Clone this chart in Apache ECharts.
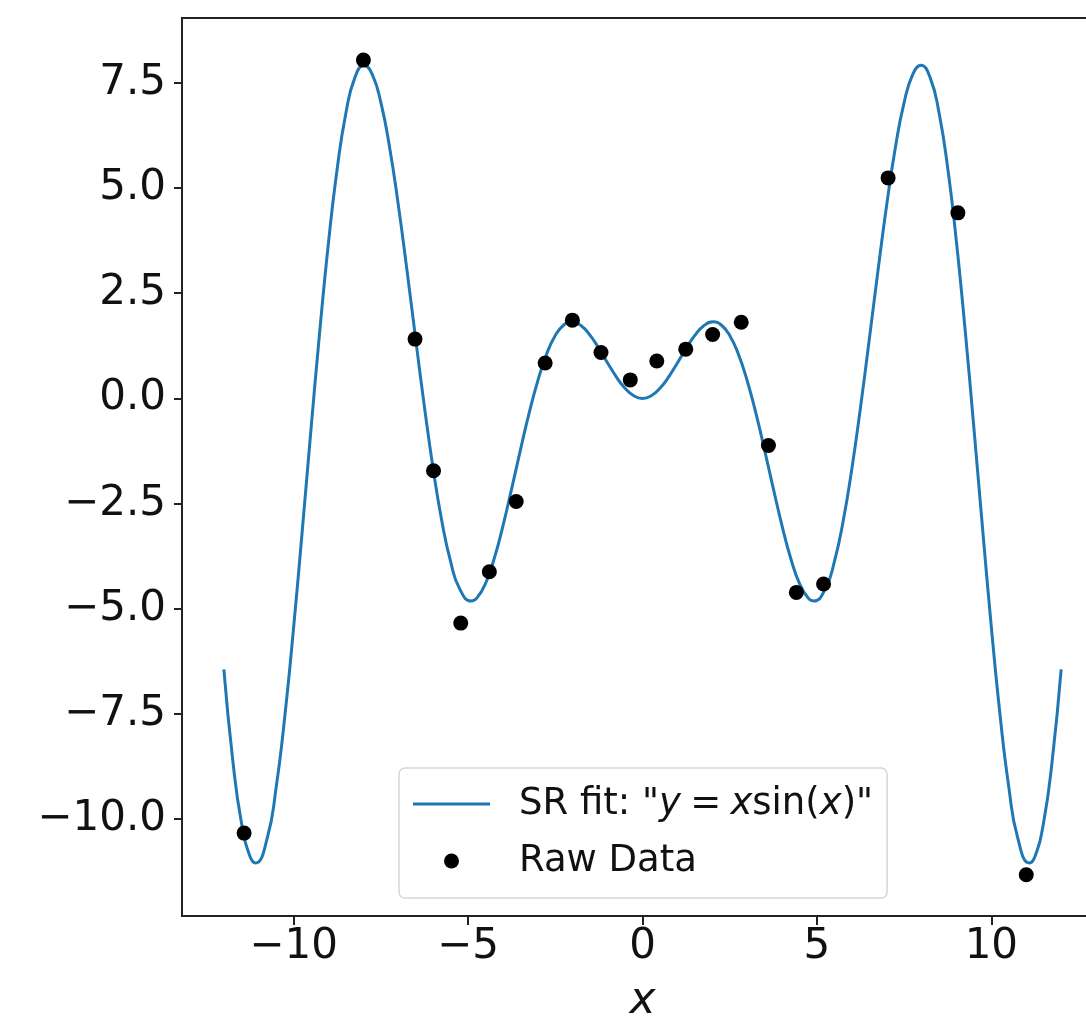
<!DOCTYPE html>
<html>
<head>
<meta charset="utf-8">
<title>SR fit</title>
<script src="https://cdn.jsdelivr.net/npm/echarts@6/dist/echarts.min.js"></script>
<style>
  html, body { margin: 0; padding: 0; background: #fff; }
  #chart { width: 1086px; height: 1020px; }
</style>
</head>
<body>
<div id="chart"></div>
<script>
  const fitX = [
    -12, -11.75, -11.5, -11.25, -11.09, -10.75, -10.5, -10.25, -10, -9.75, -9.5, -9.25, -9, -8.75, -8.5, -8.25,
    -7.98, -7.75, -7.5, -7.25, -7, -6.75, -6.5, -6.25, -6, -5.75, -5.5, -5.25, -4.91, -4.75, -4.5, -4.25,
    -4, -3.75, -3.5, -3.25, -3, -2.75, -2.5, -2.25, -2.03, -1.75, -1.5, -1.25, -1, -0.75, -0.5, -0.25,
    0, 0.25, 0.5, 0.75, 1, 1.25, 1.5, 1.75, 2.03, 2.25, 2.5, 2.75, 3, 3.25, 3.5, 3.75,
    4, 4.25, 4.5, 4.75, 4.91, 5.25, 5.5, 5.75, 6, 6.25, 6.5, 6.75, 7, 7.25, 7.5, 7.75,
    7.98, 8.25, 8.5, 8.75, 9, 9.25, 9.5, 9.75, 10, 10.25, 10.5, 10.75, 11.09, 11.25, 11.5, 11.75, 12
  ]
  const fitY = [
    -6.439, -8.562, -10.068, -10.888, -11.04, -10.428, -9.237, -7.531, -5.44, -3.115, -0.714, 1.609, 3.709, 5.466, 6.787, 7.611,
    7.917, 7.708, 7.035, 5.967, 4.599, 3.038, 1.398, -0.207, -1.676, -2.923, -3.88, -4.509, -4.815, -4.747, -4.399, -3.804,
    -3.027, -2.143, -1.228, -0.352, 0.423, 1.05, 1.496, 1.751, 1.82, 1.722, 1.496, 1.186, 0.841, 0.511, 0.24, 0.062,
    0, 0.062, 0.24, 0.511, 0.841, 1.186, 1.496, 1.722, 1.82, 1.751, 1.496, 1.05, 0.423, -0.352, -1.228, -2.143,
    -3.027, -3.804, -4.399, -4.747, -4.815, -4.509, -3.88, -2.923, -1.676, -0.207, 1.398, 3.038, 4.599, 5.967, 7.035, 7.708,
    7.917, 7.611, 6.787, 5.466, 3.709, 1.609, -0.714, -3.115, -5.44, -7.531, -9.237, -10.428, -11.04, -10.888, -10.068, -8.562, -6.439
  ]

  // raw data points
  const rawX = [-11.42, -8.0, -6.52, -5.99, -5.21, -4.39, -3.62, -2.79, -2.01, -1.19, -0.35, 0.41, 1.24, 2.01, 2.83, 3.61, 4.41, 5.19, 7.04, 9.04, 11.0]
  const rawY = [-10.33, 8.04, 1.41, -1.72, -5.34, -4.12, -2.45, 0.84, 1.86, 1.09, 0.44, 0.89, 1.17, 1.52, 1.81, -1.12, -4.61, -4.41, 5.24, 4.41, -11.32]

  const xTicks = [-10, -5, 0, 5, 10]
  const yTicks = [-10, -7.5, -5, -2.5, 0, 2.5, 5, 7.5]

  const FONT = 'DejaVu Sans'
  const INK = '#222'
  const FIT_NAME = 'SR fit'
  const RAW_NAME = 'Raw Data'

  const minus = (s) => s.replace('-', '\u2212')

  const chart = echarts.init(document.getElementById('chart'))
  chart.setOption({
    animation: false,
    grid: {
      left: 182,
      top: 18,
      right: -17,
      bottom: 104,
      show: true,
      borderColor: INK,
      borderWidth: 2,
      backgroundColor: 'transparent',
      outerBoundsMode: 'none'
    },
    legend: {
      orient: 'vertical',
      left: 399,
      top: 768,
      padding: [15, 14, 16, 14],
      itemWidth: 77,
      itemHeight: 15,
      itemGap: 15,
      backgroundColor: 'rgba(255,255,255,0.8)',
      borderColor: '#d6d6d6',
      borderWidth: 1.5,
      borderRadius: 6,
      data: [
        { name: FIT_NAME, icon: 'path://M0,0L77,0L77,3L0,3Z' },
        { name: RAW_NAME, icon: 'circle' }
      ],
      formatter: (name) => name === FIT_NAME ? 'SR fit: "{i|y}\u2005=\u2005{i|x}sin({i|x})"' : name,
      textStyle: {
        fontFamily: FONT,
        fontSize: 37,
        color: '#111',
        lineHeight: 42,
        padding: [0, 0, 0, 24],
        rich: {
          i: { fontFamily: FONT, fontSize: 37, fontStyle: 'italic', color: '#111' }
        }
      }
    },
    xAxis: {
      type: 'value',
      min: -13.2,
      max: 13.2,
      name: 'x',
      nameLocation: 'middle',
      nameGap: 64,
      nameTextStyle: { fontFamily: FONT, fontSize: 44, fontStyle: 'italic', color: '#111' },
      axisLine: { show: true, onZero: false, lineStyle: { color: INK, width: 2 } },
      axisTick: { show: true, length: 9, customValues: xTicks, lineStyle: { color: INK, width: 2 } },
      axisLabel: {
        margin: 10,
        customValues: xTicks,
        fontFamily: FONT,
        fontSize: 42,
        color: '#111',
        formatter: (v) => minus(String(v))
      },
      splitLine: { show: false }
    },
    yAxis: {
      type: 'value',
      min: -12.3,
      max: 9.04,
      axisLine: { show: true, onZero: false, lineStyle: { color: INK, width: 2 } },
      axisTick: { show: true, length: 8, customValues: yTicks, lineStyle: { color: INK, width: 2 } },
      axisLabel: {
        margin: 16,
        customValues: yTicks,
        fontFamily: FONT,
        fontSize: 42,
        color: '#111',
        formatter: (v) => minus(v.toFixed(1))
      },
      splitLine: { show: false }
    },
    series: [
      {
        name: FIT_NAME,
        type: 'line',
        data: fitX.map((x, i) => [x, fitY[i]]),
        smooth: 0.5,
        symbol: 'none',
        lineStyle: { color: '#1f77b4', width: 3, join: 'round' },
        itemStyle: { color: '#1f77b4' },
        z: 2
      },
      {
        name: RAW_NAME,
        type: 'scatter',
        data: rawX.map((x, i) => [x, rawY[i]]),
        symbolSize: 15,
        itemStyle: { color: '#000', opacity: 1 },
        z: 3
      }
    ]
  })
</script>
</body>
</html>
